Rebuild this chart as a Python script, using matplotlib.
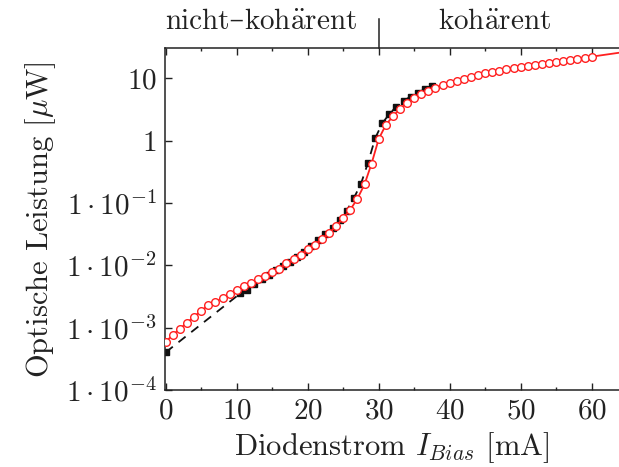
import numpy as np
import matplotlib
matplotlib.use('Agg')
import matplotlib.pyplot as plt
from matplotlib.ticker import FixedLocator, FixedFormatter, MultipleLocator, NullLocator

plt.rcParams['font.family'] = ['cmr10', 'DejaVu Serif']
plt.rcParams['mathtext.fontset'] = 'cm'
plt.rcParams['axes.unicode_minus'] = False
plt.rcParams['font.size'] = 21

# red circles: every 1 mA, 0..60 (log10 of power in uW)
red_x = np.arange(0, 61)
red_log = [-3.225, -3.117, -3.016, -2.92, -2.824, -2.727, -2.64, -2.587, -2.518, -2.459,
           -2.395, -2.33, -2.278, -2.218, -2.165, -2.11, -2.053, -1.966, -1.902, -1.833,
           -1.742, -1.668, -1.576, -1.485, -1.368, -1.244, -1.105, -0.93, -0.70, -0.365,
           0.029, 0.254, 0.393, 0.515, 0.607, 0.682, 0.746, 0.804, 0.853, 0.896,
           0.933, 0.966, 0.998, 1.029, 1.061, 1.083, 1.104, 1.125, 1.148, 1.169,
           1.185, 1.206, 1.222, 1.238, 1.254, 1.27, 1.281, 1.297, 1.313, 1.329, 1.35]
red_power = 10 ** np.array(red_log)
red_line_x = list(red_x) + [64]
red_line_power = list(red_power) + [26.0]

# black squares
blk_x = [0, 10.5, 11.5, 12.5, 13.5, 14.5, 15.5, 16.5, 17.5, 18.5, 19.5, 20.5, 21.5, 22.5,
         23.5, 24.5, 25.5, 26.5, 27.5, 28.5, 29.5, 30.5, 31.5, 32.5, 33.5, 34.5, 35.5,
         36.5, 37.5]
blk_log = [-3.395, -2.45, -2.40, -2.30, -2.22, -2.15, -2.08, -2.01, -1.94, -1.86, -1.78,
           -1.69, -1.60, -1.50, -1.40, -1.27, -1.12, -0.92, -0.69, -0.35, 0.04, 0.28,
           0.43, 0.55, 0.64, 0.71, 0.77, 0.83, 0.885]
blk_power = 10 ** np.array(blk_log)

y_ticks = [1e-4, 1e-3, 1e-2, 1e-1, 1, 10]
y_labels = [r'$1\cdot10^{-4}$', r'$1\cdot10^{-3}$', r'$1\cdot10^{-2}$',
            r'$1\cdot10^{-1}$', r'$1$', r'$10$']

fig = plt.figure(figsize=(6.19, 4.67), dpi=100)
ax = fig.add_axes([0.2666, 0.1649, 0.7334, 0.7317])

ax.plot(blk_x, blk_power, ls=(0, (5, 4)), color='#111111', lw=1.3,
        marker='s', ms=5, mfc='#111111', mec='#111111', zorder=2)
ax.plot(red_line_x, red_line_power, '-', color='#ff2020', lw=1.3, zorder=3)
ax.plot(red_x, red_power, 'o', ms=5.5, mfc='white', mec='#ff2020', mew=1.0, zorder=4)

ax.set_yscale('log')
ax.set_xlim(-0.1, 63.85)
ax.set_ylim(1e-4, 30.5)
ax.yaxis.set_major_locator(FixedLocator(y_ticks))
ax.yaxis.set_major_formatter(FixedFormatter(y_labels))
ax.yaxis.set_minor_locator(NullLocator())
ax.xaxis.set_major_locator(MultipleLocator(10))
ax.xaxis.set_minor_locator(MultipleLocator(5))
ax.set_xticks(np.arange(0, 70, 10))
ax.set_xticklabels([r'$%d$' % v for v in range(0, 70, 10)])

ax.tick_params(which='both', direction='in', top=True, right=False, color='#222222',
               labelcolor='#222222', width=1.0)
ax.tick_params(which='major', length=5, pad=6)
ax.tick_params(which='minor', length=2.5)
for s in ['left', 'bottom', 'top']:
    ax.spines[s].set_linewidth(1.1)
    ax.spines[s].set_color('#222222')
ax.spines['right'].set_visible(False)

ax.set_xlabel(r'Diodenstrom $I_{Bias}$ [mA]', color='#222222', labelpad=4, fontsize=22)
ax.set_ylabel(r'Optische Leistung [$\mu$W]', color='#222222', labelpad=6, fontsize=22)

# regime separator above the plot
ax.plot([30, 30], [1.0, 1.086], transform=ax.get_xaxis_transform(),
        color='#222222', lw=1.1, clip_on=False)
t1 = fig.text(165 / 619, 1 - 35 / 467, 'nicht–', ha='left', va='bottom',
              color='#222222', fontsize=21)
fig.canvas.draw()
ax.annotate(r'koh$\ddot{\mathrm{a}}$rent', xy=(1, 0), xycoords=t1, ha='left', va='bottom',
            color='#222222', fontsize=21, annotation_clip=False)
fig.text(495 / 619, 1 - 35 / 467, r'koh$\ddot{\mathrm{a}}$rent', ha='center',
         va='bottom', color='#222222', fontsize=21)

fig.savefig('out.png', dpi=100)
